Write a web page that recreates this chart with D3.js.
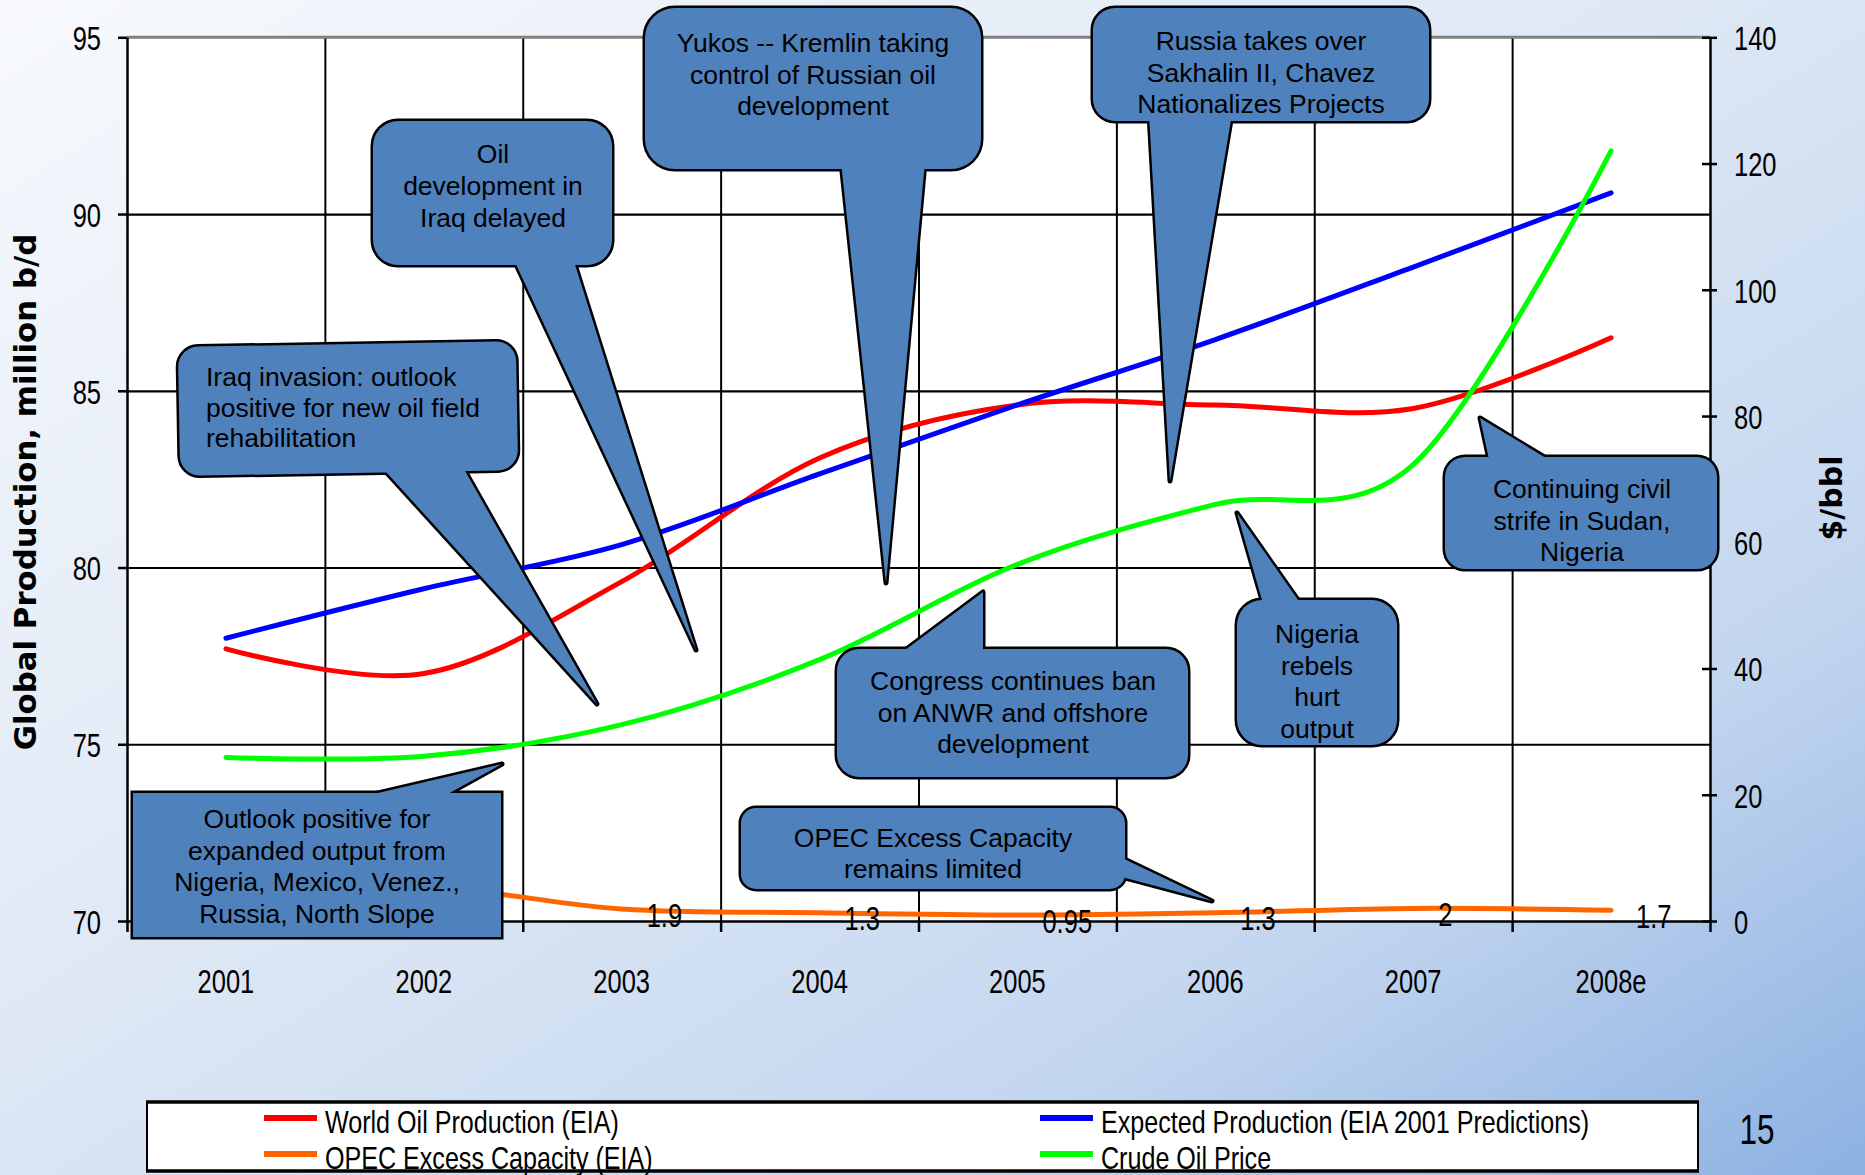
<!DOCTYPE html>
<html>
<head>
<meta charset="utf-8">
<script src="https://cdn.jsdelivr.net/npm/d3@7"></script>
<style>
  body { margin: 0; overflow: hidden; }
  text { font-family: "Liberation Sans", Arial, sans-serif; }
</style>
</head>
<body>
<div id="chart"></div>
<script>
'use strict';

let W = 1865;
let H = 1175;
let PLOT = { left: 127, right: 1710, top: 37.3, bottom: 921 };
let NARROW = 0.75;          // the chart's own labels are drawn condensed
let FONT = '"Liberation Sans", Arial, sans-serif';

// ---- data ----
let years = ['2001', '2002', '2003', '2004', '2005', '2006', '2007', '2008e'];
let worldProduction = [77.7, 77.0, 79.6, 83.1, 84.6, 84.6, 84.5, 86.5];
let expectedProduction = [78.0, 79.4, 80.65, 82.65, 84.6, 86.45, 88.5, 90.6];
let opecCapacity = [4.0, 5.4, 1.9, 1.3, 0.95, 1.3, 2.0, 1.7];
let crudePrice = [25.9, 26.1, 31.1, 41.4, 56.5, 66.0, 72.3, 122.0];
let opecLabels = [null, null, '1.9', '1.3', '0.95', '1.3', '2', '1.7'];
let leftTicks = [70, 75, 80, 85, 90, 95];
let rightTicks = [0, 20, 40, 60, 80, 100, 120, 140];

let series = [
    { name: 'World Oil Production (EIA)', values: worldProduction, axis: 'left', color: '#ff0000', col: 0, row: 0 },
    { name: 'Expected Production (EIA 2001 Predictions)', values: expectedProduction, axis: 'left', color: '#0000ff', col: 1, row: 0 },
    { name: 'OPEC Excess Capacity (EIA)', values: opecCapacity, axis: 'right', color: '#ff6600', col: 0, row: 1 },
    { name: 'Crude Oil Price', values: crudePrice, axis: 'right', color: '#00ff00', col: 1, row: 1 },
];

// callout layout (pixels): box [x, y, w, h], tail [base1, tip, base2]
let callouts = [
    { lines: ['Iraq invasion: outlook', 'positive for new oil field', 'rehabilitation'],
      box: [179, 344, 338, 129], r: 20, rotate: -1, tail: [[377, 462], [597, 704], [460, 462]],
      anchor: 'start', tx: 206, ty: 386, lh: 30.7 },
    { lines: ['Oil', 'development in', 'Iraq delayed'],
      box: [373, 121, 239, 144], r: 25, tail: [[513, 258], [696, 650], [573, 258]],
      anchor: 'middle', tx: 493, ty: 163, lh: 32 },
    { lines: ['Yukos -- Kremlin taking', 'control of Russian oil', 'development'],
      box: [645, 8, 336, 161], r: 30, tail: [[841, 162], [886, 583], [925, 162]],
      anchor: 'middle', tx: 813, ty: 52, lh: 31.5 },
    { lines: ['Russia takes over', 'Sakhalin II, Chavez', 'Nationalizes Projects'],
      box: [1093, 8, 336, 113], r: 22, tail: [[1149, 114], [1170, 481], [1232, 114]],
      anchor: 'middle', tx: 1261, ty: 50, lh: 31.5 },
    { lines: ['Outlook positive for', 'expanded output from', 'Nigeria, Mexico, Venez.,', 'Russia, North Slope'],
      box: [133, 793, 368, 144], r: 0, tail: [[348, 800], [502, 764], [437, 800]],
      anchor: 'middle', tx: 317, ty: 828, lh: 31.7 },
    { lines: ['Congress continues ban', 'on ANWR and offshore', 'development'],
      box: [837, 649, 351, 128], r: 22, tail: [[897, 656], [983, 592], [983, 656]],
      anchor: 'middle', tx: 1013, ty: 690, lh: 31.5 },
    { lines: ['OPEC Excess Capacity', 'remains limited'],
      box: [741, 808, 384, 81], r: 15, tail: [[1118, 856], [1212, 901], [1118, 876]],
      anchor: 'middle', tx: 933, ty: 847, lh: 31.3 },
    { lines: ['Nigeria', 'rebels', 'hurt', 'output'],
      box: [1237, 600, 160, 145], r: 25, tail: [[1264, 607], [1237, 513], [1303, 607]],
      anchor: 'middle', tx: 1317, ty: 643, lh: 31.7 },
    { lines: ['Continuing civil', 'strife in Sudan,', 'Nigeria'],
      box: [1445, 457, 272, 112], r: 20, tail: [[1490, 464], [1480, 418], [1556, 464]],
      anchor: 'middle', tx: 1582, ty: 498, lh: 31.5 },
];

let svg = d3.select('#chart')
    .append('svg')
    .attr('width', W)
    .attr('height', H);

// slide background
let grad = svg.append('defs').append('linearGradient')
    .attr('id', 'bg')
    .attr('x1', 0).attr('y1', 0)
    .attr('x2', 1).attr('y2', 1);
[[0, '#f7f9fd'], [0.45, '#dee8f5'], [0.75, '#c3d6ef'], [1, '#8cb1e2']].forEach(s => {
    grad.append('stop').attr('offset', s[0]).attr('stop-color', s[1]);
});
svg.append('rect').attr('width', W).attr('height', H).attr('fill', 'url(#bg)');

// scales
let xBand = d3.scaleBand().domain(years).range([PLOT.left, PLOT.right]);
let xEdge = d3.scaleLinear().domain([0, years.length]).range([PLOT.left, PLOT.right]);
let yLeft = d3.scaleLinear().domain([70, 95]).range([PLOT.bottom, PLOT.top]);
let yRight = d3.scaleLinear().domain([0, 140]).range([PLOT.bottom, PLOT.top]);
let xMid = d => xBand(d) + xBand.bandwidth() / 2;
let scaleOf = s => s.axis == 'left' ? yLeft : yRight;

svg.append('rect')
    .attr('x', PLOT.left).attr('y', PLOT.top)
    .attr('width', PLOT.right - PLOT.left)
    .attr('height', PLOT.bottom - PLOT.top)
    .attr('fill', '#fff');

// gridlines
let hGrid = svg.append('g')
    .attr('transform', `translate(${PLOT.left},0)`)
    .call(d3.axisLeft(yLeft).tickValues(leftTicks.slice(1, -1))
        .tickSize(-(PLOT.right - PLOT.left)).tickFormat(''));
hGrid.select('.domain').remove();
hGrid.selectAll('line').attr('stroke', '#000').attr('stroke-width', 2.2);

let vGrid = svg.append('g')
    .attr('transform', `translate(0,${PLOT.top})`)
    .call(d3.axisTop(xEdge).tickValues(d3.range(1, years.length))
        .tickSize(-(PLOT.bottom - PLOT.top)).tickFormat(''));
vGrid.select('.domain').remove();
vGrid.selectAll('line').attr('stroke', '#000').attr('stroke-width', 2);

svg.append('line')
    .attr('x1', PLOT.left).attr('x2', PLOT.right)
    .attr('y1', PLOT.top).attr('y2', PLOT.top)
    .attr('stroke', '#808080').attr('stroke-width', 3);

// axes
function narrowText (sel, size) {
    sel.attr('font-family', FONT)
        .attr('font-size', size)
        .attr('fill', '#000');
}

let gLeft = svg.append('g')
    .attr('transform', `translate(${PLOT.left},0)`)
    .call(d3.axisLeft(yLeft).tickValues(leftTicks).tickSize(9).tickSizeOuter(0));
gLeft.select('.domain').attr('stroke-width', 2.5);
gLeft.selectAll('.tick line').attr('stroke-width', 2.5);
gLeft.selectAll('text')
    .call(narrowText, 34)
    .attr('x', -26 / NARROW)
    .attr('dy', '0.36em')
    .attr('transform', `scale(${NARROW},1)`);

let gRight = svg.append('g')
    .attr('transform', `translate(${PLOT.right},0)`)
    .call(d3.axisRight(yRight).tickValues(rightTicks).tickSize(7).tickSizeOuter(0));
gRight.select('.domain').attr('stroke-width', 2.5);
gRight.selectAll('.tick line').attr('x1', -8).attr('stroke-width', 2.5);
gRight.selectAll('text')
    .call(narrowText, 34)
    .attr('x', 24 / NARROW)
    .attr('dy', '0.36em')
    .attr('transform', `scale(${NARROW},1)`);

let gBottom = svg.append('g')
    .attr('transform', `translate(0,${PLOT.bottom})`)
    .call(d3.axisBottom(xEdge).tickValues(d3.range(0, years.length + 1))
        .tickSize(11).tickSizeOuter(0).tickFormat(''));
gBottom.select('.domain').attr('stroke-width', 2.5);
gBottom.selectAll('.tick line').attr('stroke-width', 2.5);

let gYears = svg.append('g')
    .attr('transform', `translate(0,${PLOT.bottom})`)
    .call(d3.axisBottom(xBand).tickSize(0));
gYears.select('.domain').remove();
gYears.selectAll('.tick')
    .attr('transform', d => `translate(${xMid(d)},0) scale(${NARROW},1)`);
gYears.selectAll('text')
    .call(narrowText, 34)
    .attr('y', 72)
    .attr('dy', 0);

// axis titles
svg.append('text')
    .attr('transform', 'translate(36,492) rotate(-90)')
    .attr('text-anchor', 'middle')
    .style('font-family', '"DejaVu Sans", Verdana, sans-serif')
    .style('font-weight', 'bold')
    .style('font-size', '30.8px')
    .text('Global Production, million b/d');

svg.append('text')
    .attr('transform', 'translate(1842,498) rotate(-90)')
    .attr('text-anchor', 'middle')
    .style('font-family', '"DejaVu Sans", Verdana, sans-serif')
    .style('font-weight', 'bold')
    .style('font-size', '30px')
    .text('$/bbl');

// series lines
series.forEach(s => {
    let line = d3.line()
        .x((d, i) => xMid(years[i]))
        .y(d => scaleOf(s)(d))
        .curve(d3.curveCardinal.tension(0));
    svg.append('path')
        .datum(s.values)
        .attr('d', line)
        .attr('fill', 'none')
        .attr('stroke', s.color)
        .attr('stroke-width', 5)
        .attr('stroke-linecap', 'round');
});

// OPEC value labels
svg.append('g')
    .selectAll('text')
    .data(opecLabels.map((t, i) => ({ t: t, i: i })).filter(d => d.t))
    .join('text')
    .attr('transform', d => `translate(${xMid(years[d.i]) + 25},${yRight(opecCapacity[d.i]) + 17.5}) scale(${NARROW},1)`)
    .call(narrowText, 34)
    .text(d => d.t);

// callouts: doubled strokes first, fills on top, so the outline is one piece
function drawCallout (c) {
    let g = svg.append('g');
    let [bx, by, bw, bh] = c.box;
    let rot = c.rotate ? `rotate(${c.rotate},${bx + bw / 2},${by + bh / 2})` : null;
    let tailPts = c.tail.map(p => p.join(',')).join(' ');

    let addTail = (stroke) => g.append('polygon')
        .attr('points', tailPts)
        .attr('fill', stroke ? 'none' : '#4f81bd')
        .attr('stroke', stroke ? '#000' : 'none')
        .attr('stroke-width', 5)
        .attr('stroke-linejoin', 'round');
    let addBox = (stroke) => g.append('rect')
        .attr('x', bx).attr('y', by)
        .attr('width', bw).attr('height', bh)
        .attr('rx', c.r).attr('ry', c.r)
        .attr('transform', rot)
        .attr('fill', stroke ? 'none' : '#4f81bd')
        .attr('stroke', stroke ? '#000' : 'none')
        .attr('stroke-width', 5);

    addTail(true);
    addBox(true);
    addTail(false);
    addBox(false);

    let t = g.append('text')
        .attr('text-anchor', c.anchor)
        .attr('font-size', 26.5)
        .attr('fill', '#000');
    c.lines.forEach((ln, i) => {
        t.append('tspan')
            .attr('x', c.tx)
            .attr('y', c.ty + i * c.lh)
            .text(ln);
    });
}
callouts.forEach(drawCallout);

// legend
let legend = svg.append('g');
legend.append('rect')
    .attr('x', 147).attr('y', 1102)
    .attr('width', 1551).attr('height', 69)
    .attr('fill', '#fff')
    .attr('stroke', '#000')
    .attr('stroke-width', 2);
[1102, 1171].forEach(y => {
    legend.append('line')
        .attr('x1', 146).attr('x2', 1699)
        .attr('y1', y).attr('y2', y)
        .attr('stroke', '#000').attr('stroke-width', 3.5);
});
let colX = [264, 1040];
let rowY = [1118, 1154];
series.forEach(s => {
    let x = colX[s.col];
    let y = rowY[s.row];
    legend.append('line')
        .attr('x1', x).attr('x2', x + 53)
        .attr('y1', y).attr('y2', y)
        .attr('stroke', s.color)
        .attr('stroke-width', 6);
    legend.append('text')
        .attr('transform', `translate(${x + 61},${y + 15}) scale(0.81,1)`)
        .call(narrowText, 31)
        .text(s.name);
});

// slide number
svg.append('text')
    .attr('transform', `translate(1757,1144) scale(${NARROW},1)`)
    .attr('text-anchor', 'middle')
    .call(narrowText, 42)
    .text('15');
</script>
</body>
</html>
